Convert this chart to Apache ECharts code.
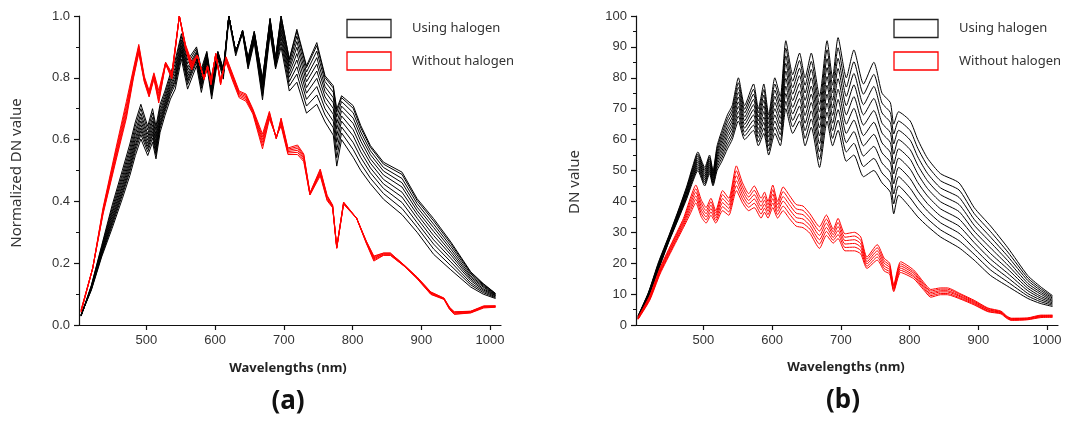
<!DOCTYPE html>
<html><head><meta charset="utf-8">
<script src="https://cdn.jsdelivr.net/npm/echarts@6/dist/echarts.min.js"></script>
<style>html,body{margin:0;padding:0;background:#fff}#c{width:1069px;height:425px}</style>
</head><body><div id="c"></div>
<script>
// ---------- DATA (DN values; panel (a) = each curve / its own maximum) ----------
const wlHalo = [405,420,435,450,465,476,484,492,502,509,514,520,527,535,542,551,560,573,580,588,595,604,612,620,630,640,648,657,669,680,688,696,708,719,733,748,760,772,777,784,801,812,826,845,872,894,918,943,972,990,1008];
const haloDN1 = [2,9,18,27,35,41,46,50,45,49,45,50,53,57,60,66,60,63,58,62,55,62,58,70,62,66,58,64,51,66,58,63,53,55,48,50,46,43,36,42,38,35,32,28.5,25,21,16,12.5,8.6,7,6];
const haloDN2 = [2.1,9.2,18.3,27.2,35.3,41.4,46.6,50.7,45.7,49.7,45.6,50.9,54.1,58.2,61.2,67.6,61.2,64.7,59.3,63.8,56.4,64,59.8,72.4,64.1,68.4,60.4,66.7,53.6,68.9,60.4,66.3,56,58.8,51.3,53.9,49.2,46.2,39.2,45,41.1,37.8,34.4,30.8,27.3,22.9,17.8,13.9,9.4,7.6,6.4];
const haloDN3 = [2.2,9.3,18.6,27.4,35.7,41.9,47.1,51.3,46.3,50.3,46.1,51.8,55.2,59.4,62.4,69.1,62.4,66.3,60.7,65.6,57.9,66,61.6,74.9,66.2,70.9,62.9,69.3,56.1,71.8,62.9,69.7,59,62.6,54.7,57.8,52.4,49.4,42.4,48,44.2,40.6,36.9,33.1,29.7,24.8,19.6,15.3,10.2,8.2,6.8];
const haloDN4 = [2.3,9.5,18.8,27.7,36,42.3,47.7,52,47,51,46.7,52.7,56.3,60.7,63.7,70.7,63.7,68,62,67.3,59.3,68,63.3,77.3,68.3,73.3,65.3,72,58.7,74.7,65.3,73,62,66.3,58,61.7,55.7,52.7,45.7,51,47.3,43.3,39.3,35.3,32,26.7,21.3,16.7,11.1,8.8,7.2];
const haloDN5 = [2.4,9.7,19.1,27.9,36.3,42.8,48.2,52.7,47.7,51.7,47.2,53.6,57.4,61.9,64.9,72.2,64.9,69.7,63.3,69.1,60.8,70,65.1,79.8,70.4,75.8,67.8,74.7,61.2,77.6,67.8,76.3,65,70.1,61.3,65.6,58.9,55.9,48.9,54,50.4,46.1,41.8,37.6,34.3,28.6,23.1,18.1,11.9,9.4,7.6];
const haloDN6 = [2.6,9.8,19.4,28.1,36.7,43.2,48.8,53.3,48.3,52.3,47.8,54.4,58.6,63.1,66.1,73.8,66.1,71.3,64.7,70.9,62.2,72,66.9,82.2,72.6,78.2,70.2,77.3,63.8,80.4,70.2,79.7,68,73.9,64.7,69.4,62.1,59.1,52.1,57,53.6,48.9,44.2,39.9,36.7,30.4,24.9,19.4,12.7,10.1,7.9];
const haloDN7 = [2.7,10,19.7,28.3,37,43.7,49.3,54,49,53,48.3,55.3,59.7,64.3,67.3,75.3,67.3,73,66,72.7,63.7,74,68.7,84.7,74.7,80.7,72.7,80,66.3,83.3,72.7,83,71,77.7,68,73.3,65.3,62.3,55.3,60,56.7,51.7,46.7,42.2,39,32.3,26.7,20.8,13.5,10.7,8.3];
const haloDN8 = [2.8,10.2,19.9,28.6,37.3,44.1,49.9,54.7,49.7,53.7,48.9,56.2,60.8,65.6,68.6,76.9,68.6,74.7,67.3,74.4,65.1,76,70.4,87.1,76.8,83.1,75.1,82.7,68.9,86.2,75.1,86.3,74,81.4,71.3,77.2,68.6,65.6,58.6,63,59.8,54.4,49.1,44.4,41.3,34.2,28.4,22.2,14.4,11.3,8.7];
const haloDN9 = [2.9,10.3,20.2,28.8,37.7,44.6,50.4,55.3,50.3,54.3,49.4,57.1,61.9,66.8,69.8,78.4,69.8,76.3,68.7,76.2,66.6,78,72.2,89.6,78.9,85.6,77.6,85.3,71.4,89.1,77.6,89.7,77,85.2,74.7,81.1,71.8,68.8,61.8,66,62.9,57.2,51.6,46.7,43.7,36.1,30.2,23.6,15.2,11.9,9.1];
const haloDN10 = [3,10.5,20.5,29,38,45,51,56,51,55,50,58,63,68,71,80,71,78,70,78,68,80,74,92,81,88,80,88,74,92,80,93,80,89,78,85,75,72,65,69,66,60,54,49,46,38,32,25,16,12.5,9.5];

const wlNoHalo = [405,422,437,456,471,481,489,497,504,511,518,528,537,548,557,566,574,584,589,594,601,608,616,625,635,645,655,669,679,689,696,706,720,729,738,753,763,771,777,787,806,820,831,845,855,875,894,914,933,941,948,972,991,1008];
const noHaloDN1 = [1.8,8,16.5,25,31.5,36,39.5,35,33,35.5,33,37,35.5,43.5,39.5,37,38,34.6,36.5,34.6,38,34.6,37,34.5,32,31.5,29.7,24.8,29,26.5,28,24,24,23,18.3,21,17.5,16.5,10.8,17,15,11.5,9,9.8,9.8,8.3,6.5,4.3,3.6,2.2,1.5,1.7,2.4,2.5];
const noHaloDN2 = [1.9,8.3,16.9,25.5,32.1,37,40.7,36.1,34,36.6,33.8,38.3,36.6,45.1,40.8,38.1,39.4,35.9,37.8,35.7,39.5,35.7,38.5,36,33.4,32.9,31,26.2,30.3,27.4,29.3,25.1,25.2,24.1,19,22,18.3,17.2,11.2,17.7,15.6,12,9.5,10.2,10.2,8.6,6.8,4.5,3.8,2.4,1.6,1.8,2.6,2.6];
const noHaloDN3 = [2.1,8.6,17.3,26,32.7,38,41.8,37.2,35,37.7,34.6,39.6,37.7,46.7,42.1,39.2,40.8,37.2,39.1,36.8,40.9,36.8,40.1,37.5,34.8,34.3,32.2,27.6,31.6,28.3,30.6,26.2,26.4,25.2,19.8,23,19.1,17.9,11.7,18.4,16.1,12.5,10,10.7,10.7,9,7.1,4.8,4,2.5,1.8,1.9,2.7,2.8];
const noHaloDN4 = [2.2,8.9,17.7,26.5,33.3,39,43,38.3,36,38.8,35.4,40.9,38.8,48.3,43.4,40.3,42.2,38.4,40.4,37.8,42.4,37.8,41.6,39,36.2,35.7,33.5,29,33,29.2,31.9,27.3,27.6,26.3,20.5,24,20,18.6,12.1,19.1,16.7,13,10.5,11.1,11.1,9.3,7.4,5,4.1,2.7,1.9,2.1,2.9,2.9];
const noHaloDN5 = [2.4,9.2,18.1,27,33.9,40,44.1,39.4,37,39.9,36.2,42.2,39.9,49.9,44.7,41.4,43.6,39.7,41.7,38.9,43.8,38.9,43.2,40.5,37.6,37.1,34.7,30.4,34.3,30.1,33.2,28.4,28.8,27.4,21.3,25,20.8,19.3,12.6,19.8,17.2,13.5,11,11.6,11.6,9.7,7.7,5.3,4.3,2.8,2.1,2.2,3,3.1];
const noHaloDN6 = [2.5,9.5,18.5,27.5,34.5,41,45.3,40.5,38,41,37,43.5,41,51.5,46,42.5,45,41,43,40,45.3,40,44.7,42,39,38.5,36,31.8,35.6,31,34.5,29.5,30,28.5,22,26,21.6,20,13,20.5,17.8,14,11.5,12,12,10,8,5.5,4.5,3,2.2,2.3,3.2,3.2];

const xTickValues = [500,600,700,800,900,1000];
const seriesNames = ['Using halogen','Without halogen'];
const panelLabels = ['(a)','(b)'];
const yTitles = ['Normalized DN value','DN value'];
const xTitle = 'Wavelengths (nm)';

// ---------- BUILD ----------
const haloCurves = [haloDN1,haloDN2,haloDN3,haloDN4,haloDN5,haloDN6,haloDN7,haloDN8,haloDN9,haloDN10];
const noHaloCurves = [noHaloDN1,noHaloDN2,noHaloDN3,noHaloDN4,noHaloDN5,noHaloDN6];
const FONT = '"Liberation Sans", Arial, sans-serif';
const TFONT = '"Noto Sans", "Open Sans", sans-serif';

function toPairs(wl, arr, div){ return wl.map((w,i)=>[w, arr[i]/div]); }
function lineSeries(name, color, gi, data, smooth){
  return {type:'line', name:name, xAxisIndex:gi, yAxisIndex:gi, data:data, showSymbol:false, symbol:'none',
    smooth:smooth,
    silent:true, animation:false, lineStyle:{color:color, width:1}, itemStyle:{color:color}, z:2};
}
const series = [];
haloCurves.forEach(c=>{
  const m = Math.max(...c);
  series.push(lineSeries(seriesNames[0], '#000000', 0, toPairs(wlHalo, c, m), false));
  series.push(lineSeries(seriesNames[0], '#000000', 1, toPairs(wlHalo, c, 1), 0.2));
});
noHaloCurves.forEach(c=>{
  const m = Math.max(...c);
  series.push(lineSeries(seriesNames[1], '#ff0000', 0, toPairs(wlNoHalo, c, m), false));
  series.push(lineSeries(seriesNames[1], '#ff0000', 1, toPairs(wlNoHalo, c, 1), 0.2));
});

function xAx(gi){
  return {type:'value', gridIndex:gi, min:402, max:1016,
    axisLine:{show:true, onZero:false, lineStyle:{color:'#111', width:1.2}},
    axisTick:{show:true, customValues:xTickValues, length:5, lineStyle:{color:'#111', width:1.2}},
    axisLabel:{show:true, customValues:xTickValues, color:'#333', fontSize:13, fontFamily:FONT, margin:9, formatter:v=>String(v)},
    splitLine:{show:false}};
}
function yAx(gi, max, interval, fmt){
  return {type:'value', gridIndex:gi, min:0, max:max, interval:interval,
    axisLine:{show:true, onZero:false, lineStyle:{color:'#111', width:1.2}},
    axisTick:{show:true, length:5, lineStyle:{color:'#111', width:1.2}},
    minorTick:{show:true, splitNumber:2, length:3, lineStyle:{color:'#111', width:1}},
    axisLabel:{color:'#333', fontSize:13, fontFamily:FONT, margin:9, formatter:fmt},
    splitLine:{show:false}, minorSplitLine:{show:false}};
}

const graphic = [];
function legendBlock(x0, textX){
  graphic.push({type:'rect', shape:{x:x0, y:19.5, width:44, height:18}, style:{fill:'none', stroke:'#222', lineWidth:1.3}, z:10});
  graphic.push({type:'rect', shape:{x:x0, y:52, width:44, height:18}, style:{fill:'none', stroke:'#ff0000', lineWidth:1.3}, z:10});
  graphic.push({type:'text', x:textX, y:28.5, style:{text:seriesNames[0], font:'13px '+TFONT, fill:'#333', verticalAlign:'middle', align:'left'}, z:10});
  graphic.push({type:'text', x:textX, y:61, style:{text:seriesNames[1], font:'13px '+TFONT, fill:'#333', verticalAlign:'middle', align:'left'}, z:10});
}
legendBlock(347, 412);
legendBlock(894, 959);
graphic.push({type:'text', x:17, y:173, rotation:Math.PI/2, style:{text:yTitles[0], font:'15px '+TFONT, fill:'#333', align:'center', verticalAlign:'middle'}});
graphic.push({type:'text', x:575, y:182, rotation:Math.PI/2, style:{text:yTitles[1], font:'15px '+TFONT, fill:'#333', align:'center', verticalAlign:'middle'}});
graphic.push({type:'text', x:288, y:368, style:{text:xTitle, font:'bold 13px '+TFONT, fill:'#222', align:'center', verticalAlign:'middle'}});
graphic.push({type:'text', x:846, y:367, style:{text:xTitle, font:'bold 13px '+TFONT, fill:'#222', align:'center', verticalAlign:'middle'}});
graphic.push({type:'text', x:288, y:402, style:{text:panelLabels[0], font:'bold 26px '+TFONT, fill:'#111', align:'center', verticalAlign:'middle'}});
graphic.push({type:'text', x:843, y:401, style:{text:panelLabels[1], font:'bold 26px '+TFONT, fill:'#111', align:'center', verticalAlign:'middle'}});

const chart = echarts.init(document.getElementById('c'), null, {renderer:'canvas'});
chart.setOption({
  animation:false,
  backgroundColor:'#ffffff',
  grid:[{left:79, top:16, width:422, height:309}, {left:636, top:16, width:422, height:309}],
  xAxis:[xAx(0), xAx(1)],
  yAxis:[yAx(0, 1, 0.2, v=>v.toFixed(1)), yAx(1, 100, 10, v=>String(v))],
  series:series,
  graphic:graphic
});
</script></body></html>
